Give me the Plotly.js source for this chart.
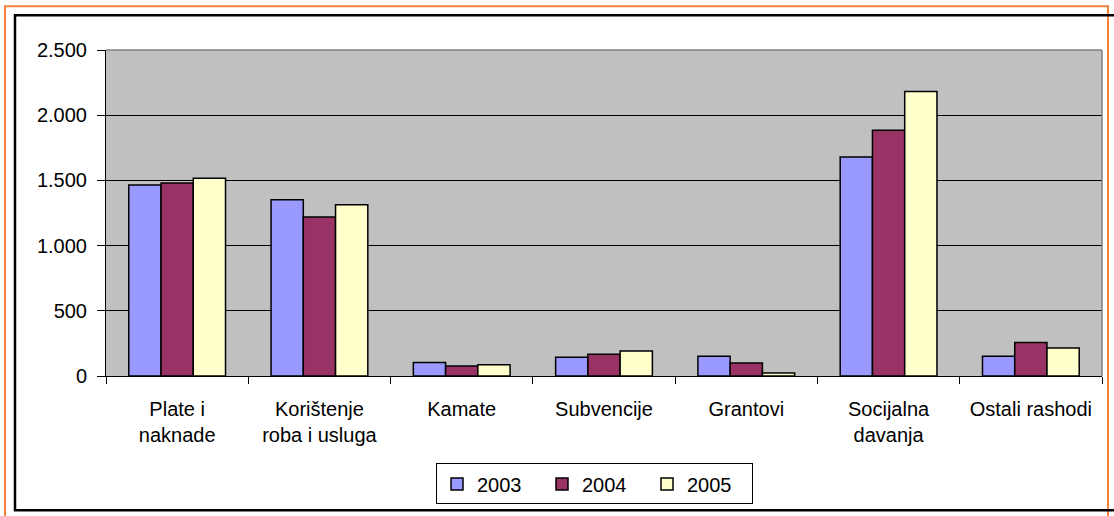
<!DOCTYPE html>
<html>
<head>
<meta charset="utf-8">
<script src="https://cdn.plot.ly/plotly-3.0.1.min.js"></script>
<style>
html,body{margin:0;padding:0;background:#fff;}
#chart{width:1114px;height:516px;}
</style>
</head>
<body>
<div id="chart"></div>
<script>
const categories = ["Plate i naknade", "Korištenje roba i usluga", "Kamate", "Subvencije", "Grantovi", "Socijalna davanja", "Ostali rashodi"];
const tickLabels = ["Plate i<br>naknade", "Korištenje<br>roba i usluga", "Kamate", "Subvencije", "Grantovi", "Socijalna<br>davanja", "Ostali rashodi"];
const seriesNames = ["2003", "2004", "2005"];
const values2003 = [1465, 1352, 103, 144, 151, 1679, 151];
const values2004 = [1481, 1220, 77, 167, 100, 1884, 256];
const values2005 = [1517, 1314, 87, 192, 23, 2182, 215];
const colors = ["#9999FF", "#993366", "#FFFFCC"];

const W = 1114, H = 516;
const L = 106, R = 1102, T = 50, B = 378;
function px(x){ return (x - L) / (R - L); }
function py(y){ return (B - y) / (B - T); }

const allValues = [values2003, values2004, values2005];
const traces = allValues.map((v, i) => ({
  type: "bar",
  name: seriesNames[i],
  x: categories,
  y: v,
  marker: {color: colors[i], line: {color: "#000000", width: 1.5}},
  hoverinfo: "x+y+name"
}));

const font = {family: "Liberation Sans, Arial, sans-serif", size: 20, color: "#000"};

const layout = {
  width: W, height: H,
  margin: {l: L, r: W - R, t: T, b: H - B, pad: 0},
  paper_bgcolor: "#ffffff",
  plot_bgcolor: "#C0C0C0",
  font: font,
  separators: ",.",
  barmode: "group",
  bargap: 0.32,
  bargroupgap: 0,
  showlegend: true,
  legend: {
    orientation: "h",
    x: px(436), xanchor: "left",
    y: py(466), yanchor: "top",
    bordercolor: "#000", borderwidth: 1,
    bgcolor: "#fff",
    font: font,
    itemwidth: 30,
    entrywidth: 60,
    entrywidthmode: "pixels",
    traceorder: "normal"
  },
  xaxis: {
    type: "category",
    tickmode: "array",
    tickvals: categories,
    ticktext: tickLabels,
    tickson: "boundaries",
    ticks: "outside", ticklen: 7, tickcolor: "#000", tickwidth: 1,
    showline: true, linecolor: "#000", linewidth: 1,
    showgrid: false, zeroline: false,
    tickangle: 0,
    ticklabelstandoff: 15,
    tickfont: font,
    fixedrange: true
  },
  yaxis: {
    range: [0, 2500],
    tickvals: [0, 500, 1000, 1500, 2000, 2500],
    tickformat: ",d",
    ticks: "outside", ticklen: 8, tickcolor: "#000", tickwidth: 1,
    showline: true, linecolor: "#000", linewidth: 1,
    showgrid: true, gridcolor: "#000", gridwidth: 1,
    zeroline: false,
    ticklabelstandoff: 6,
    tickfont: font,
    fixedrange: true
  },
  shapes: [
    {type: "line", xref: "paper", yref: "paper", x0: 0, x1: 1, y0: 1, y1: 1, line: {color: "#808080", width: 1.5}},
    {type: "line", xref: "paper", yref: "paper", x0: 1, x1: 1, y0: 0, y1: 1, line: {color: "#808080", width: 1.5}},
    {type: "rect", xref: "paper", yref: "paper", x0: px(5), x1: px(1108), y0: py(6), y1: py(530), line: {color: "#F7813A", width: 2}, layer: "above"},
    {type: "rect", xref: "paper", yref: "paper", x0: px(15), x1: px(1130), y0: py(15), y1: py(513), line: {color: "#000", width: 2.5}, layer: "above"}
  ]
};

Plotly.newPlot("chart", traces, layout, {displayModeBar: false, staticPlot: true});
</script>
</body>
</html>
